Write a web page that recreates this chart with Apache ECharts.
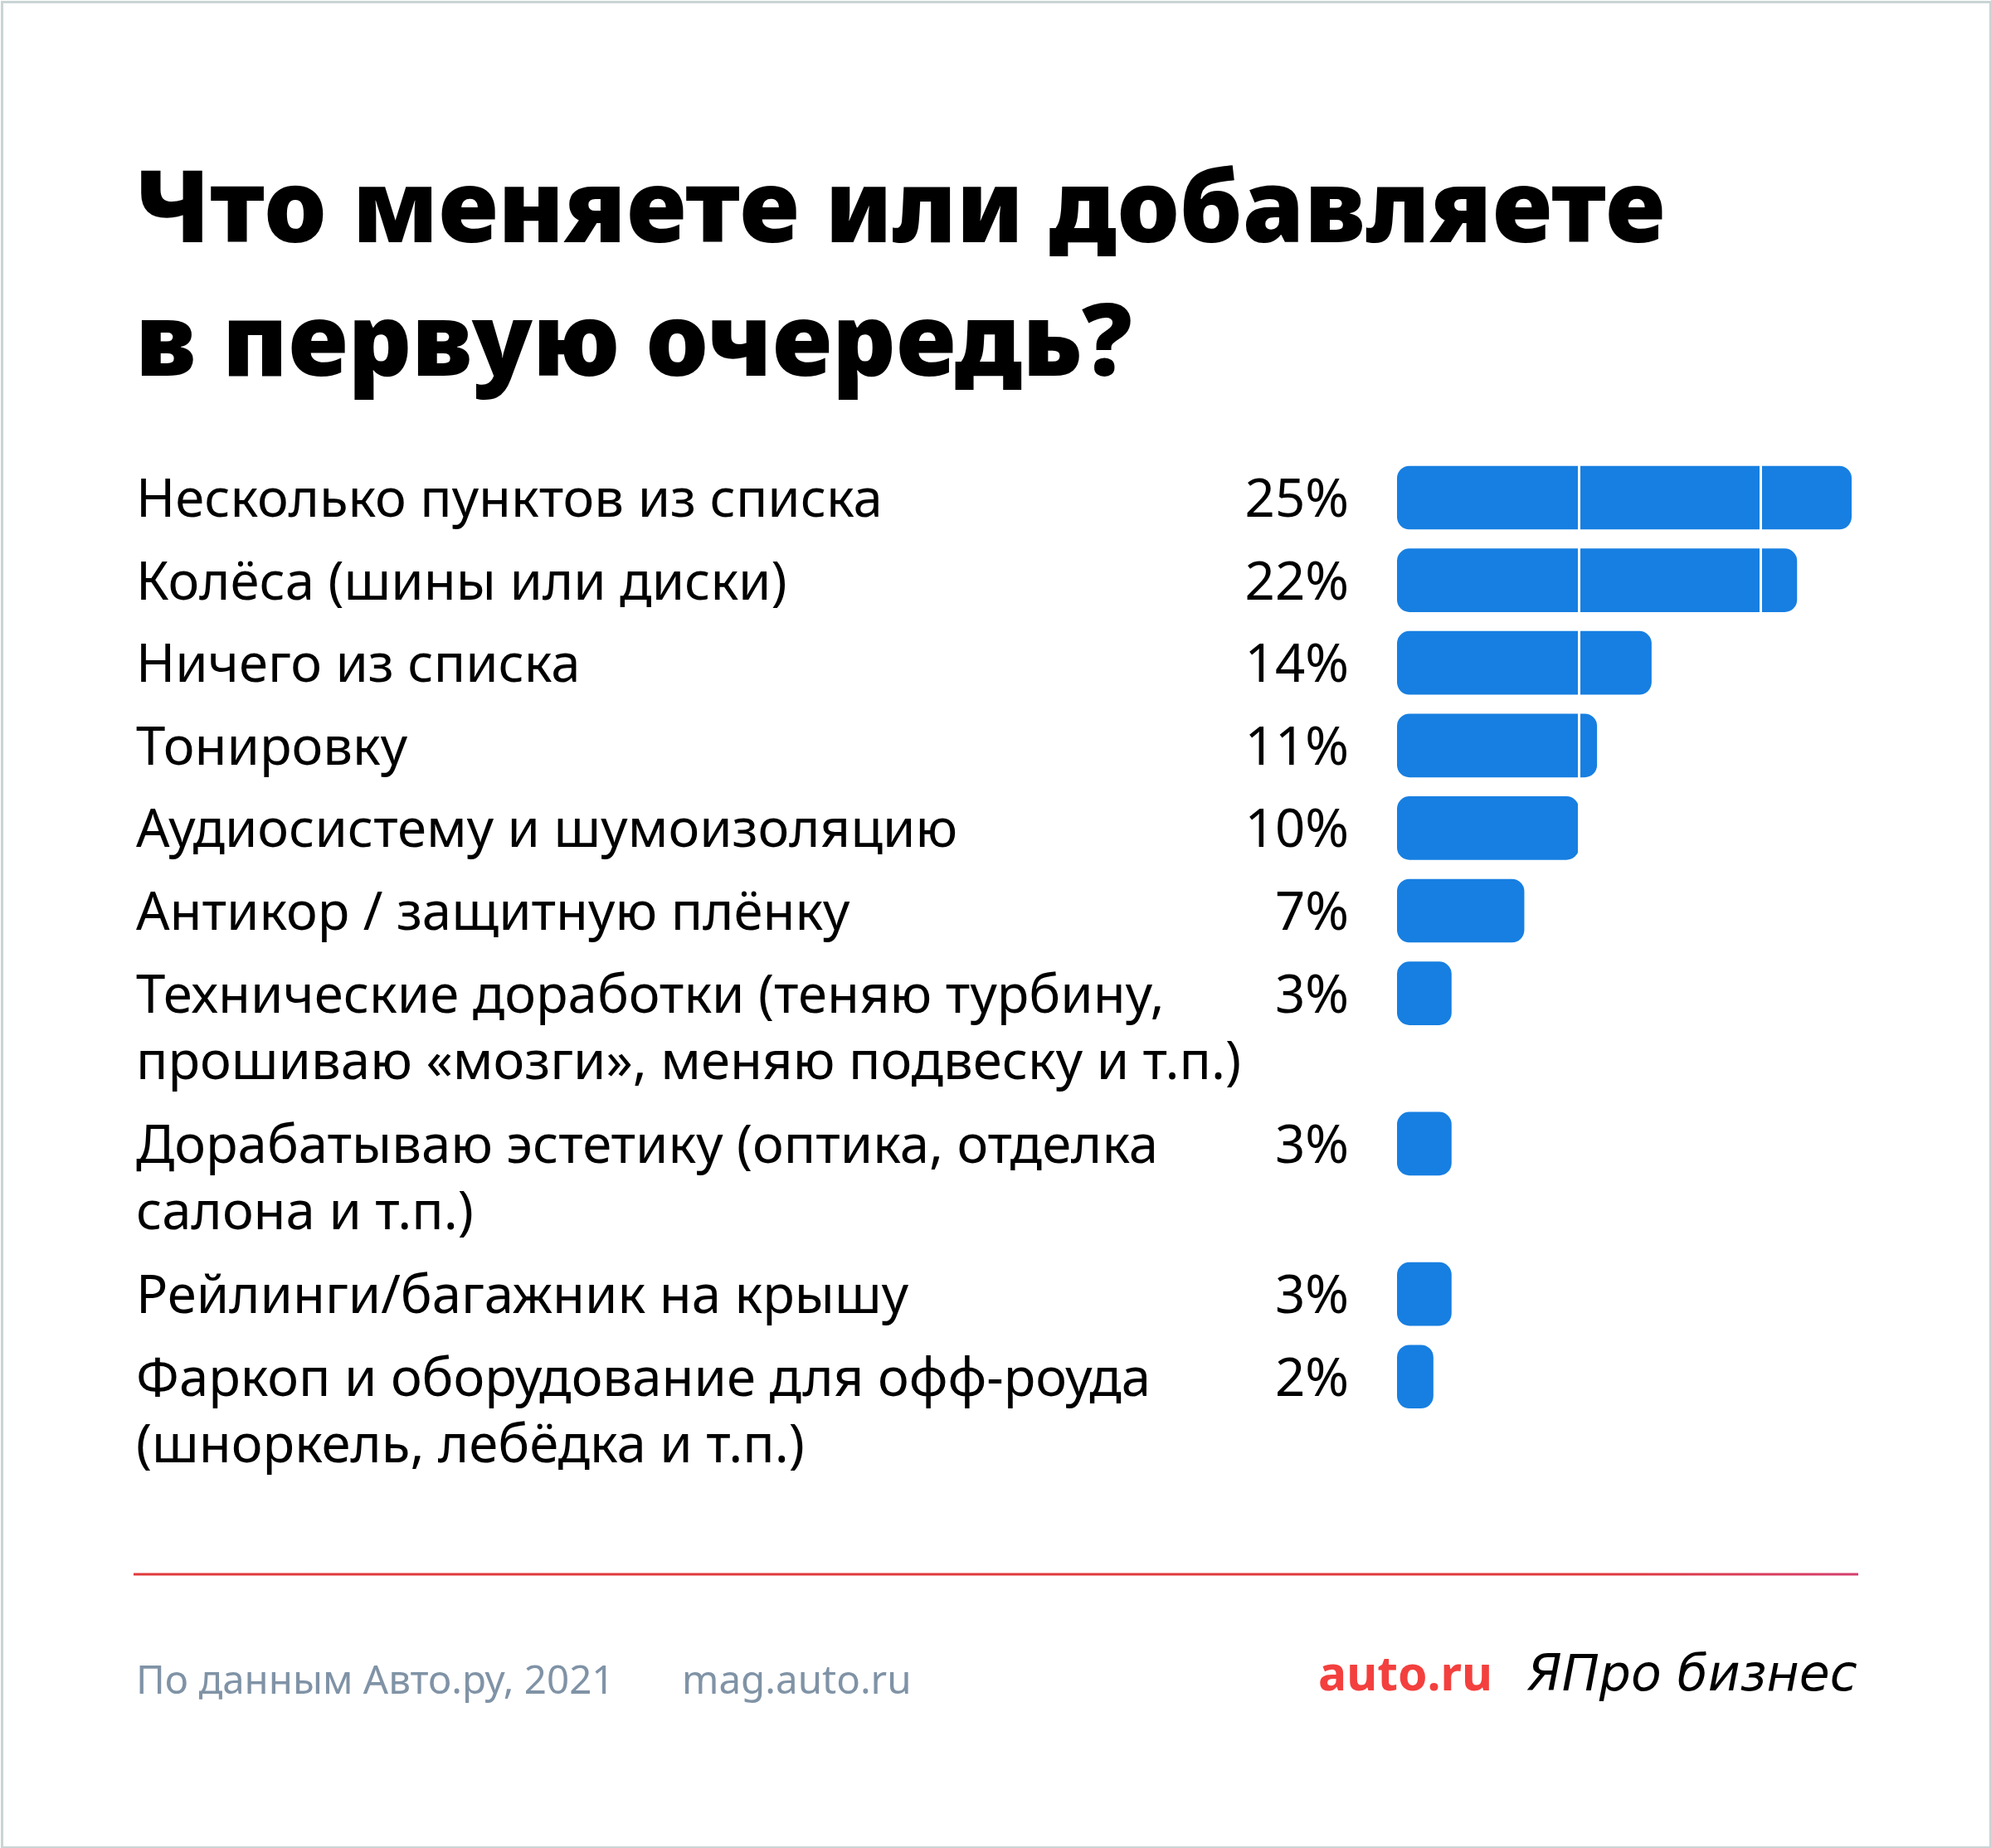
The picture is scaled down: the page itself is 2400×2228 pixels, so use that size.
<!DOCTYPE html>
<html>
<head>
<meta charset="utf-8">
<script src="https://cdn.jsdelivr.net/npm/echarts@6/dist/echarts.min.js"></script>
<style>
  html, body { margin: 0; padding: 0; background: #fff; }
  #chart { width: 2400px; height: 2228px; }
</style>
</head>
<body>
<div id="chart"></div>
<script>
// данные опроса
var categories = [
  'Несколько пунктов из списка',
  'Колёса (шины или диски)',
  'Ничего из списка',
  'Тонировку',
  'Аудиосистему и шумоизоляцию',
  'Антикор / защитную плёнку',
  'Технические доработки (теняю турбину,\nпрошиваю «мозги», меняю подвеску и т.п.)',
  'Дорабатываю эстетику (оптика, отделка\nсалона и т.п.)',
  'Рейлинги/багажник на крышу',
  'Фаркоп и оборудование для офф-роуда\n(шноркель, лебёдка и т.п.)'
];
var values = [25, 22, 14, 11, 10, 7, 3, 3, 3, 2];

var titleText = 'Что меняете или добавляете\nв первую очередь?';
var sourceText = 'По данным Авто.ру, 2021';
var siteText = 'mag.auto.ru';

// раскладка
var ROW = 99.6;          // шаг строки, px
var EXTRA = 0.82;        // добавка за каждую лишнюю строку подписи
var BAR = 0.77;          // толщина полосы в долях строки
var LABEL_X = 164;
var FONT = '"Noto Sans", sans-serif';

// позиции строк по числу строк подписи
var positions = [];
var pos = 0;
for (var i = 0; i < categories.length; i++) {
  if (i > 0) {
    var prevLines = categories[i - 1].split('\n').length;
    pos += 1 + EXTRA * (prevLines - 1);
  }
  positions.push(pos);
}
var seriesData = values.map(function (v, i) { return [v, positions[i]]; });
var yMin = -0.5;
var yMax = positions[positions.length - 1] + 0.5;

var myChart = echarts.init(document.getElementById('chart'));

var option = {
  backgroundColor: '#fff',
  animation: false,
  title: {
    text: titleText,
    left: LABEL_X - 6,
    top: 172,
    textStyle: {
      fontFamily: FONT,
      fontWeight: 900,
      fontSize: 120,
      lineHeight: 161,
      color: '#000'
    }
  },
  grid: {
    left: 1684,
    right: 168,
    top: 600 - ROW * 0.5,
    height: ROW * (yMax - yMin)
  },
  xAxis: {
    type: 'value',
    min: 0,
    max: 25,
    interval: 10,
    z: 10,
    axisLine: { show: false },
    axisTick: { show: false },
    axisLabel: { show: false },
    splitLine: {
      show: true,
      showMinLine: false,
      showMaxLine: false,
      lineStyle: { color: '#ffffff', width: 3 }
    }
  },
  yAxis: {
    type: 'value',
    inverse: true,
    min: yMin,
    max: yMax,
    show: false,
    splitLine: { show: false }
  },
  series: [{
    type: 'custom',
    data: seriesData,
    encode: { x: 0, y: 1 },
    renderItem: function (params, api) {
      var v = api.value(0);
      var p = api.value(1);
      var a = api.coord([0, p]);
      var b = api.coord([v, p]);
      var h = api.size([0, BAR])[1];
      return {
        type: 'group',
        children: [{
          type: 'rect',
          shape: { x: a[0], y: a[1] - h / 2, width: b[0] - a[0], height: h, r: 15 },
          style: { fill: '#177fe1' }
        }, {
          type: 'text',
          x: LABEL_X,
          y: a[1] - 35,
          style: {
            text: categories[params.dataIndex],
            fontFamily: FONT,
            fontSize: 63.5,
            lineHeight: 80,
            fill: '#000',
            align: 'left',
            verticalAlign: 'top'
          }
        }, {
          type: 'text',
          x: a[0] - 58,
          y: a[1] - 35,
          style: {
            text: v + '%',
            fontFamily: FONT,
            fontSize: 63.5,
            lineHeight: 80,
            fill: '#000',
            align: 'right',
            verticalAlign: 'top'
          }
        }]
      };
    }
  }],
  graphic: [{
    type: 'rect',
    left: 0,
    top: 0,
    shape: { x: 1.5, y: 1.5, width: 2397, height: 2225 },
    style: { fill: 'none', stroke: '#c9d5d4', lineWidth: 3 },
    silent: true
  }, {
    type: 'line',
    shape: { x1: 161, y1: 1898, x2: 2240, y2: 1898 },
    style: {
      stroke: new echarts.graphic.LinearGradient(0, 0, 1, 0, [
        { offset: 0, color: '#e0393b' },
        { offset: 0.85, color: '#e0393b' },
        { offset: 1, color: '#d43f6f' }
      ]),
      lineWidth: 3
    }
  }, {
    type: 'text',
    x: LABEL_X,
    y: 2028,
    style: {
      text: sourceText,
      fontFamily: FONT,
      fontSize: 47.5,
      fill: '#8093a6',
      verticalAlign: 'middle'
    }
  }, {
    type: 'text',
    x: 822,
    y: 2028,
    style: {
      text: siteText,
      fontFamily: FONT,
      fontSize: 47.5,
      fill: '#8093a6',
      verticalAlign: 'middle'
    }
  }, {
    type: 'text',
    x: 1589,
    y: 2022,
    style: {
      text: 'auto.ru',
      fontFamily: FONT,
      fontWeight: 'bold',
      fontSize: 57,
      fill: '#f3403e',
      verticalAlign: 'middle'
    }
  }, {
    type: 'text',
    x: 1841,
    y: 2022,
    style: {
      text: 'ЯПро бизнес',
      fontFamily: '"DejaVu Sans", sans-serif',
      fontStyle: 'italic',
      fontSize: 60,
      fill: '#000',
      verticalAlign: 'middle'
    }
  }]
};

myChart.setOption(option);
</script>
</body>
</html>
